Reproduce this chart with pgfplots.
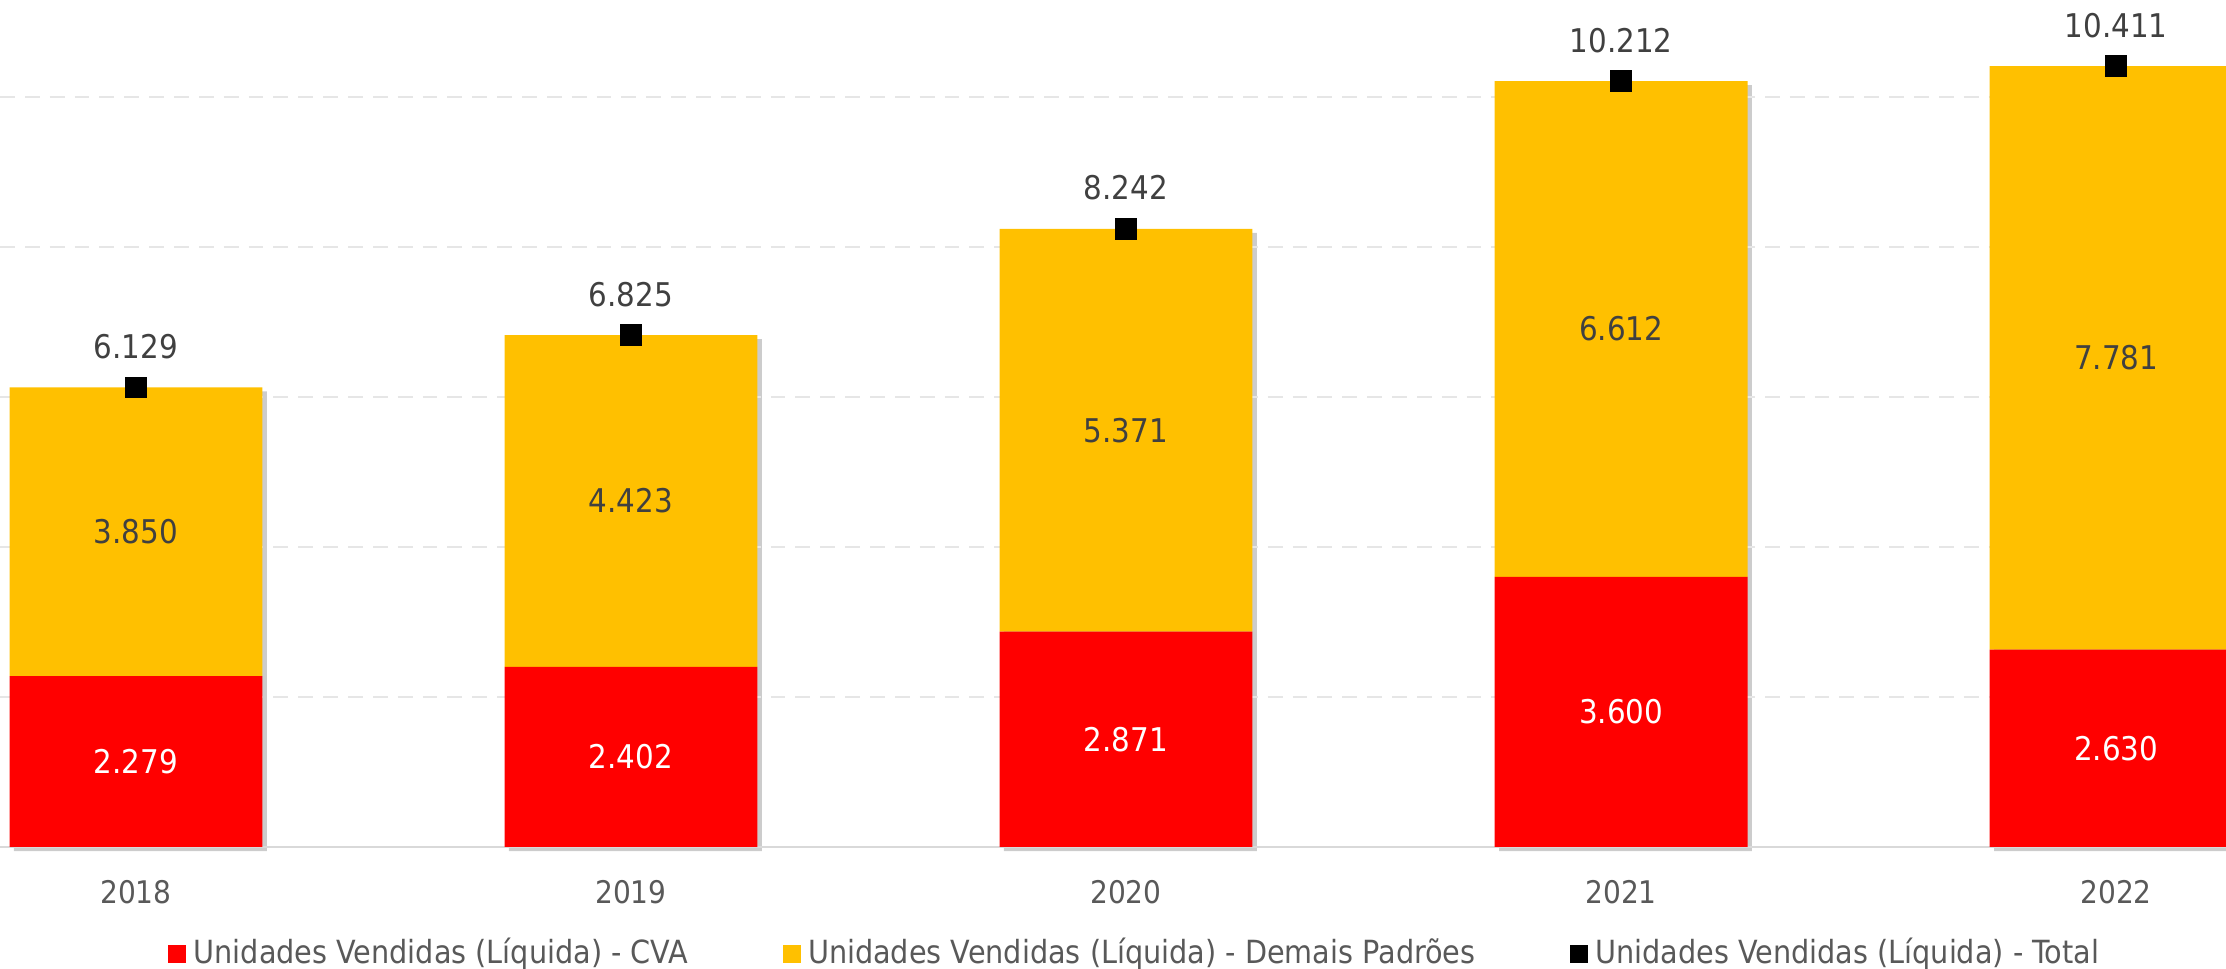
\documentclass[border=0pt]{standalone}
\usepackage{fontspec}
\setmainfont{DejaVu Sans Condensed}
\usepackage{pgfplots}
\pgfplotsset{compat=1.18}
\usepackage{pgfplotstable}

\definecolor{cvared}{HTML}{FF0000}
\definecolor{demais}{HTML}{FFC000}
\definecolor{lbl}{HTML}{404040}
\definecolor{tickc}{HTML}{595959}
\definecolor{gridc}{HTML}{E6E6E6}
\definecolor{basec}{HTML}{D9D9D9}

\pgfplotstableread{
x cva demais total
0 2279 3850 6129
1 2402 4423 6825
2 2871 5371 8242
3 3600 6612 10212
4 2630 7781 10411
}\data
\pgfplotstablecreatecol[expr={\thisrow{cva}/2}]{cvamid}{\data}
\pgfplotstablecreatecol[expr={\thisrow{cva}+\thisrow{demais}/2}]{demmid}{\data}

\pgfplotsset{
  base/.style={
    scale only axis, width=600pt, height=228.3pt,
    xmin=-0.2747, xmax=4.2222, ymin=0, ymax=11293,
    /pgf/number format/assume math mode=true,
    /pgf/number format/fixed,
    /pgf/number format/precision=0,
    /pgf/number format/1000 sep={.},
  },
}

\begin{document}
\begin{tikzpicture}
% shadow
\begin{axis}[base, hide axis, at={(1.2pt,-1.1pt)}, ybar, bar width=0.511]
\addplot[fill=black, fill opacity=0.2, draw=none] table[x=x,y=total]{\data};
\end{axis}
% bars
\begin{axis}[base,
  ybar stacked, bar width=0.511,
  axis line style={draw=none},
  ytick={2000,4000,6000,8000,10000}, yticklabels={},
  ymajorgrids, major grid style={gridc, line width=0.5pt, dash pattern=on 4pt off 2.7pt},
  extra y ticks={0}, extra y tick labels={},
  extra y tick style={grid=major, major grid style={solid, basec, line width=0.55pt}},
  tick style={draw=none},
  xtick={0,1,2,3,4}, xticklabels={2018,2019,2020,2021,2022},
  xticklabel style={font=\fontsize{8.4}{9}\selectfont, text=tickc, anchor=center, yshift=-12.1pt},
]
\addplot[fill=cvared, draw=none] table[x=x,y=cva]{\data};
\addplot[fill=demais, draw=none] table[x=x,y=demais]{\data};
\end{axis}
% labels, totals + legend
\begin{axis}[base, hide axis,
  legend columns=3,
  legend image code/.code={\fill[#1, draw=none] (0pt,-2.4pt) rectangle (4.8pt,2.4pt);},
  legend style={draw=none, fill=none, at={(0.511,-0.1262)}, anchor=center,
    font=\fontsize{8.6}{10}\selectfont, text=tickc,
    /tikz/every even column/.append style={column sep=23.5pt}},
  legend cell align=left,
]
\addplot[draw=none, forget plot, nodes near coords, point meta=explicit,
  every node near coord/.append style={anchor=center, text=white, font=\fontsize{8.8}{10}\selectfont}]
  table[x=x,y=cvamid,meta=cva]{\data};
\addplot[draw=none, forget plot, nodes near coords, point meta=explicit,
  every node near coord/.append style={anchor=center, text=lbl, font=\fontsize{8.8}{10}\selectfont}]
  table[x=x,y=demmid,meta=demais]{\data};
\addplot[only marks, mark=square*, mark size=2.7pt, black, forget plot,
  nodes near coords, point meta=explicit,
  every node near coord/.append style={anchor=center, yshift=11pt, text=lbl, font=\fontsize{8.8}{10}\selectfont}]
  table[x=x,y=total,meta=total]{\data};
\addlegendimage{fill=cvared}
\addlegendentry{Unidades Vendidas (Líquida) - CVA}
\addlegendimage{fill=demais}
\addlegendentry{Unidades Vendidas (Líquida) - Demais Padrões}
\addlegendimage{fill=black}
\addlegendentry{Unidades Vendidas (Líquida) - Total}
\end{axis}
\pgfresetboundingbox
\useasboundingbox (0pt,-32.88pt) rectangle (600pt,228.3pt);
\end{tikzpicture}
\end{document}
